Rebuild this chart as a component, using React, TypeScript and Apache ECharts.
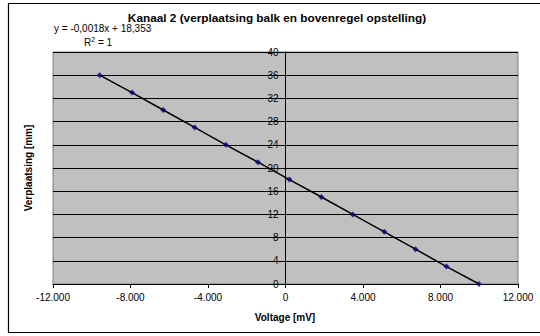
import React, { useEffect, useRef } from "react";
import * as echarts from "echarts";

// Kanaal 2 calibration: measured voltage vs. displacement
const voltage: number[] = [-9590, -7920, -6310, -4690, -3080, -1420, 200, 1850, 3470, 5100, 6710, 8310, 9990];
const displacement: number[] = [36, 33, 30, 27, 24, 21, 18, 15, 12, 9, 6, 3, 0];

const titleText = "Kanaal 2 (verplaatsing balk en bovenregel opstelling)";
const trendEquation = "y = -0,0018x + 18,353";
const xAxisName = "Voltage [mV]";
const yAxisName = "Verplaatsing [mm]";

const FONT = "Liberation Sans, Arial, sans-serif";

const GRID_LEFT = 53;
const GRID_RIGHT = 22;
const CHART_W = 540;

// Dutch number formatting: dot as thousands separator
function formatNL(v: number): string {
  const sign = v < 0 ? "-" : "";
  const abs = Math.abs(Math.round(v));
  const s = String(abs).replace(/\B(?=(\d{3})+(?!\d))/g, ".");
  return sign + s;
}

export default function App() {
  const ref = useRef<HTMLDivElement>(null);

  useEffect(() => {
    if (!ref.current) return;
    const chart = echarts.init(ref.current, undefined, { renderer: "svg" });
    const points = voltage.map((x, i) => [x, displacement[i]]);

    // the vertical axis sits at x = 0, halfway across the -12.000..12.000 range
    const plotWidth = CHART_W - GRID_LEFT - GRID_RIGHT;
    const yAxisShift = plotWidth / 2;

    chart.setOption({
      animation: false,
      backgroundColor: "#ffffff",
      textStyle: { fontFamily: FONT },
      grid: {
        left: GRID_LEFT,
        right: GRID_RIGHT,
        top: 52,
        bottom: 52,
        show: true,
        backgroundColor: "#C0C0C0",
        borderColor: "#808080",
        borderWidth: 1,
      },
      xAxis: {
        type: "value",
        min: -12000,
        max: 12000,
        interval: 4000,
        axisLine: { show: true, onZero: false, lineStyle: { color: "#000", width: 1 } },
        axisTick: { show: true, length: 4, lineStyle: { color: "#000" } },
        axisLabel: {
          color: "#000",
          fontSize: 10,
          fontFamily: FONT,
          margin: 8,
          formatter: (v: number) => formatNL(v),
        },
        splitLine: { show: false },
      },
      yAxis: {
        type: "value",
        min: 0,
        max: 40,
        interval: 4,
        position: "left",
        offset: -yAxisShift,
        axisLine: { show: true, onZero: false, lineStyle: { color: "#000", width: 1 } },
        axisTick: { show: true, length: 4, lineStyle: { color: "#000" } },
        axisLabel: { color: "#000", fontSize: 10, fontFamily: FONT, margin: 7 },
        splitLine: { show: true, lineStyle: { color: "#000", width: 1 } },
      },
      series: [
        {
          type: "line",
          data: points,
          showSymbol: false,
          lineStyle: { color: "#000", width: 1.5 },
          z: 3,
        },
        {
          type: "scatter",
          data: points,
          symbol: "diamond",
          symbolSize: 6,
          itemStyle: { color: "#000080" },
          z: 4,
        },
      ],
      graphic: [
        {
          type: "rect",
          shape: { x: 8.5, y: 3.5, width: 560, height: 329 },
          style: { fill: "none", stroke: "#000", lineWidth: 1.2 },
          silent: true,
        },
        {
          type: "text",
          x: 277,
          y: 18,
          style: {
            text: titleText,
            font: `bold 11.8px ${FONT}`,
            fill: "#000",
            align: "center",
            verticalAlign: "middle",
          },
        },
        {
          type: "text",
          x: 54,
          y: 28,
          style: {
            text: trendEquation,
            font: `10px ${FONT}`,
            fill: "#000",
            align: "left",
            verticalAlign: "middle",
          },
        },
        {
          type: "text",
          x: 84,
          y: 42,
          style: {
            text: "R{sup|2} = 1",
            font: `10px ${FONT}`,
            fill: "#000",
            align: "left",
            verticalAlign: "middle",
            rich: {
              sup: { fontSize: 7, fontFamily: FONT, verticalAlign: "top", padding: [0, 0, 5, 0] },
            },
          },
        },
        {
          type: "text",
          x: 285,
          y: 317,
          style: {
            text: xAxisName,
            font: `bold 10px ${FONT}`,
            fill: "#000",
            align: "center",
            verticalAlign: "middle",
          },
        },
        {
          type: "text",
          x: 28,
          y: 168,
          rotation: Math.PI / 2,
          style: {
            text: yAxisName,
            font: `bold 10px ${FONT}`,
            fill: "#000",
            align: "center",
            verticalAlign: "middle",
          },
        },
      ],
    });

    return () => chart.dispose();
  }, []);

  return (
    <div
      ref={ref}
      style={{ position: "fixed", left: 0, top: 0, width: CHART_W, height: 336 }}
    />
  );
}
